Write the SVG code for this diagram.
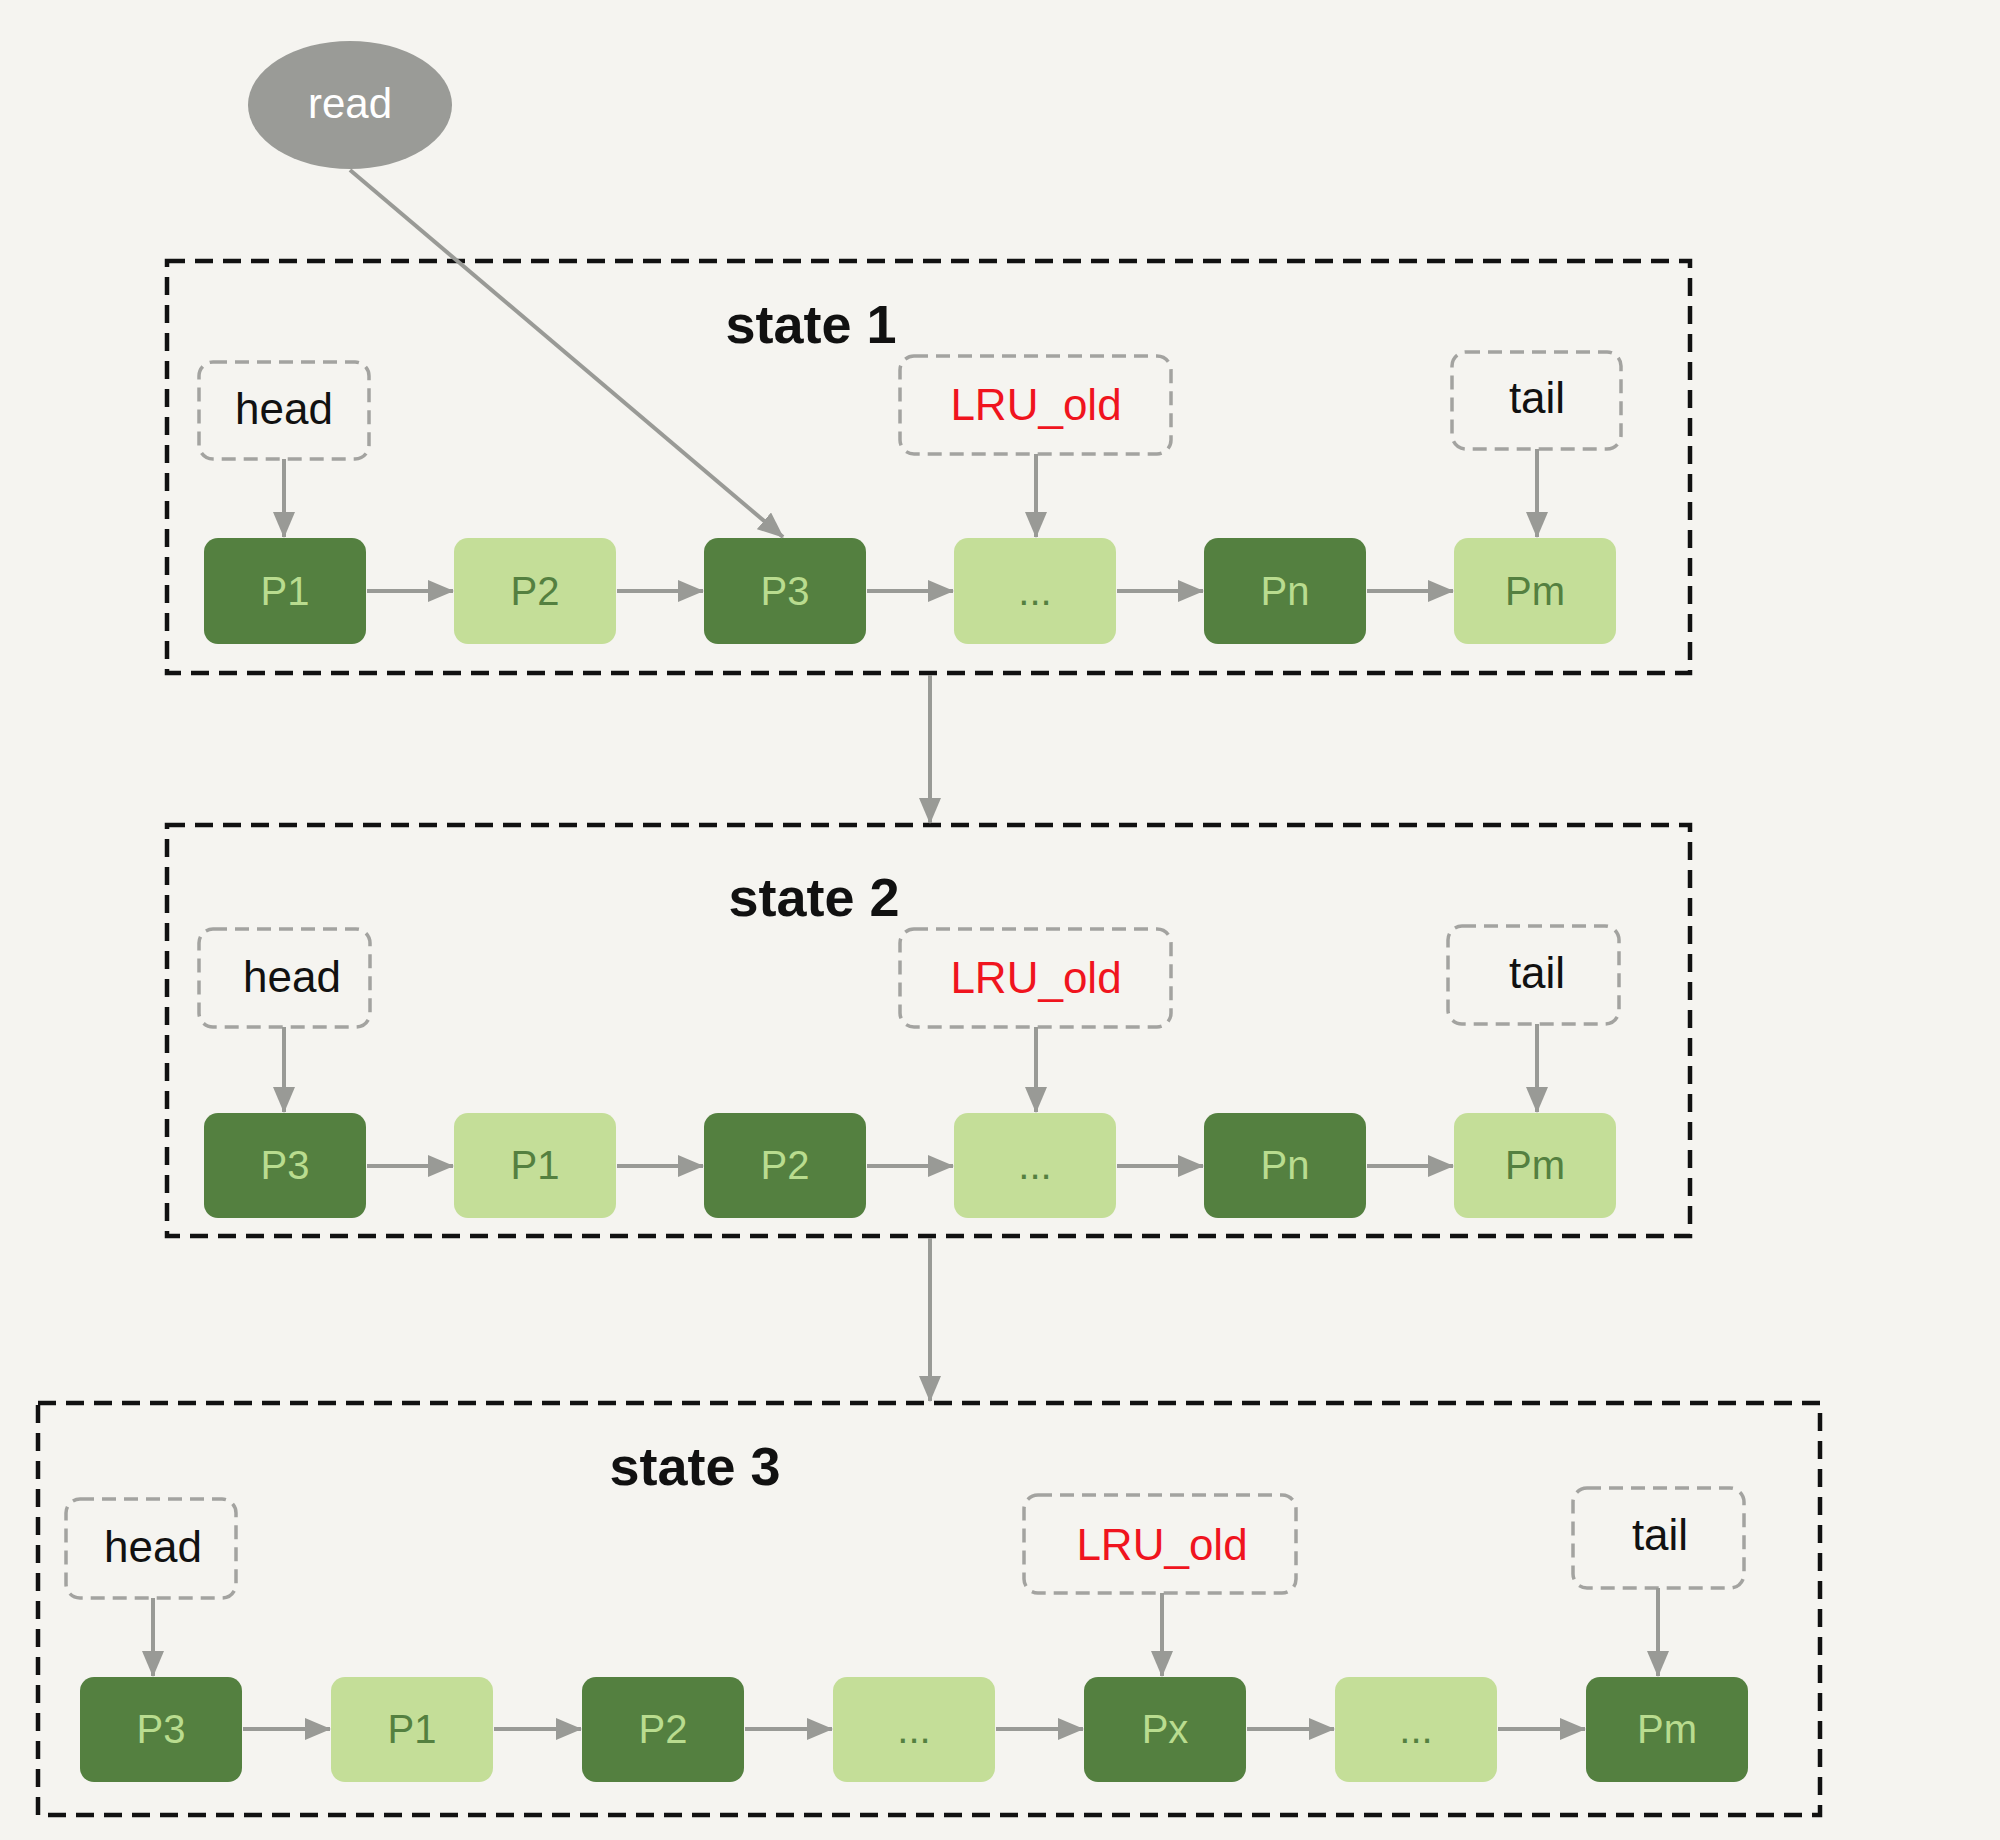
<svg xmlns="http://www.w3.org/2000/svg" width="2000" height="1840" viewBox="0 0 2000 1840">
<defs>
<marker id="ah" markerWidth="26" markerHeight="22" refX="25" refY="11" orient="auto" markerUnits="userSpaceOnUse"><path d="M0,0 L26,11 L0,22 z" fill="#999a96"/></marker>
<style>
.bg{fill:#f5f4f0}
.frame{fill:none;stroke:#111;stroke-width:4.5;stroke-dasharray:18 10}
.ptr{fill:none;stroke:#a3a3a0;stroke-width:3.5;stroke-dasharray:14 8}
.dk{fill:#548040}
.lt{fill:#c4de98}
.dkt{fill:#b9dc8f;font-family:"Liberation Sans",Arial,sans-serif;font-size:40px;text-anchor:middle}
.ltt{fill:#548040;font-family:"Liberation Sans",Arial,sans-serif;font-size:40px;text-anchor:middle}
.lbl{fill:#111;font-family:"Liberation Sans",Arial,sans-serif;font-size:44px;text-anchor:middle}
.red{fill:#f0141e;font-family:"Liberation Sans",Arial,sans-serif;font-size:44px;text-anchor:middle}
.title{fill:#111;font-family:"Liberation Sans",Arial,sans-serif;font-size:54px;font-weight:bold;text-anchor:middle}
.con{fill:none;stroke:#999a96;stroke-width:4;marker-end:url(#ah)}
</style>
</defs>
<rect class="bg" x="0" y="0" width="2000" height="1840"/>

<g id="read">
<ellipse cx="350" cy="105" rx="102" ry="64" fill="#9a9b97"/>
<text x="350" y="118" fill="#ffffff" font-family="Liberation Sans, Arial, sans-serif" font-size="42" text-anchor="middle">read</text>
</g>

<!-- State 1 -->
<g id="state1">
<rect class="frame" x="167" y="261" width="1523" height="412"/>
<text class="title" x="811" y="343">state 1</text>
</g>
<g id="s1-head"><rect class="ptr" x="199" y="362" width="170" height="97" rx="14"/><text class="lbl" x="284" y="424">head</text></g>
<g id="s1-lru"><rect class="ptr" x="900" y="356" width="271" height="98" rx="14"/><text class="red" x="1036" y="420">LRU_old</text></g>
<g id="s1-tail"><rect class="ptr" x="1452" y="352" width="169" height="97" rx="14"/><text class="lbl" x="1537" y="413">tail</text></g>
<g id="s1-p1"><rect class="dk" x="204" y="538" width="162" height="106" rx="14"/><text class="dkt" x="285" y="605">P1</text></g>
<g id="s1-p2"><rect class="lt" x="454" y="538" width="162" height="106" rx="14"/><text class="ltt" x="535" y="605">P2</text></g>
<g id="s1-p3"><rect class="dk" x="704" y="538" width="162" height="106" rx="14"/><text class="dkt" x="785" y="605">P3</text></g>
<g id="s1-dots"><rect class="lt" x="954" y="538" width="162" height="106" rx="14"/><text class="ltt" x="1035" y="605">...</text></g>
<g id="s1-pn"><rect class="dk" x="1204" y="538" width="162" height="106" rx="14"/><text class="dkt" x="1285" y="605">Pn</text></g>
<g id="s1-pm"><rect class="lt" x="1454" y="538" width="162" height="106" rx="14"/><text class="ltt" x="1535" y="605">Pm</text></g>

<!-- State 2 -->
<g id="state2">
<rect class="frame" x="167" y="825" width="1523" height="411"/>
<text class="title" x="814" y="916">state 2</text>
</g>
<g id="s2-head"><rect class="ptr" x="199" y="929" width="171" height="98" rx="14"/><text class="lbl" x="292" y="992">head</text></g>
<g id="s2-lru"><rect class="ptr" x="900" y="929" width="271" height="98" rx="14"/><text class="red" x="1036" y="993">LRU_old</text></g>
<g id="s2-tail"><rect class="ptr" x="1448" y="926" width="171" height="98" rx="14"/><text class="lbl" x="1537" y="988">tail</text></g>
<g id="s2-p3"><rect class="dk" x="204" y="1113" width="162" height="105" rx="14"/><text class="dkt" x="285" y="1179">P3</text></g>
<g id="s2-p1"><rect class="lt" x="454" y="1113" width="162" height="105" rx="14"/><text class="ltt" x="535" y="1179">P1</text></g>
<g id="s2-p2"><rect class="dk" x="704" y="1113" width="162" height="105" rx="14"/><text class="dkt" x="785" y="1179">P2</text></g>
<g id="s2-dots"><rect class="lt" x="954" y="1113" width="162" height="105" rx="14"/><text class="ltt" x="1035" y="1179">...</text></g>
<g id="s2-pn"><rect class="dk" x="1204" y="1113" width="162" height="105" rx="14"/><text class="dkt" x="1285" y="1179">Pn</text></g>
<g id="s2-pm"><rect class="lt" x="1454" y="1113" width="162" height="105" rx="14"/><text class="ltt" x="1535" y="1179">Pm</text></g>

<!-- State 3 -->
<g id="state3">
<rect class="frame" x="38" y="1403" width="1782" height="412"/>
<text class="title" x="695" y="1485">state 3</text>
</g>
<g id="s3-head"><rect class="ptr" x="66" y="1499" width="170" height="99" rx="14"/><text class="lbl" x="153" y="1562">head</text></g>
<g id="s3-lru"><rect class="ptr" x="1024" y="1495" width="272" height="98" rx="14"/><text class="red" x="1162" y="1560">LRU_old</text></g>
<g id="s3-tail"><rect class="ptr" x="1573" y="1488" width="171" height="100" rx="14"/><text class="lbl" x="1660" y="1550">tail</text></g>
<g id="s3-p3"><rect class="dk" x="80" y="1677" width="162" height="105" rx="14"/><text class="dkt" x="161" y="1743">P3</text></g>
<g id="s3-p1"><rect class="lt" x="331" y="1677" width="162" height="105" rx="14"/><text class="ltt" x="412" y="1743">P1</text></g>
<g id="s3-p2"><rect class="dk" x="582" y="1677" width="162" height="105" rx="14"/><text class="dkt" x="663" y="1743">P2</text></g>
<g id="s3-dots1"><rect class="lt" x="833" y="1677" width="162" height="105" rx="14"/><text class="ltt" x="914" y="1743">...</text></g>
<g id="s3-px"><rect class="dk" x="1084" y="1677" width="162" height="105" rx="14"/><text class="dkt" x="1165" y="1743">Px</text></g>
<g id="s3-dots2"><rect class="lt" x="1335" y="1677" width="162" height="105" rx="14"/><text class="ltt" x="1416" y="1743">...</text></g>
<g id="s3-pm"><rect class="dk" x="1586" y="1677" width="162" height="105" rx="14"/><text class="dkt" x="1667" y="1743">Pm</text></g>

<g id="connectors">
<path class="con" d="M350,170 L783,537"/>
<path class="con" d="M284,459 L284,537"/>
<path class="con" d="M1036,454 L1036,537"/>
<path class="con" d="M1537,449 L1537,537"/>
<path class="con" d="M367,591 L453,591"/>
<path class="con" d="M617,591 L703,591"/>
<path class="con" d="M867,591 L953,591"/>
<path class="con" d="M1117,591 L1203,591"/>
<path class="con" d="M1367,591 L1453,591"/>
<path class="con" d="M930,675 L930,823"/>
<path class="con" d="M930,1238 L930,1401"/>
<path class="con" d="M284,1027 L284,1112"/>
<path class="con" d="M1036,1027 L1036,1112"/>
<path class="con" d="M1537,1024 L1537,1112"/>
<path class="con" d="M367,1166 L453,1166"/>
<path class="con" d="M617,1166 L703,1166"/>
<path class="con" d="M867,1166 L953,1166"/>
<path class="con" d="M1117,1166 L1203,1166"/>
<path class="con" d="M1367,1166 L1453,1166"/>
<path class="con" d="M153,1598 L153,1676"/>
<path class="con" d="M1162,1593 L1162,1676"/>
<path class="con" d="M1658,1588 L1658,1676"/>
<path class="con" d="M243,1729 L330,1729"/>
<path class="con" d="M494,1729 L581,1729"/>
<path class="con" d="M745,1729 L832,1729"/>
<path class="con" d="M996,1729 L1083,1729"/>
<path class="con" d="M1247,1729 L1334,1729"/>
<path class="con" d="M1498,1729 L1585,1729"/>
</g>
</svg>
